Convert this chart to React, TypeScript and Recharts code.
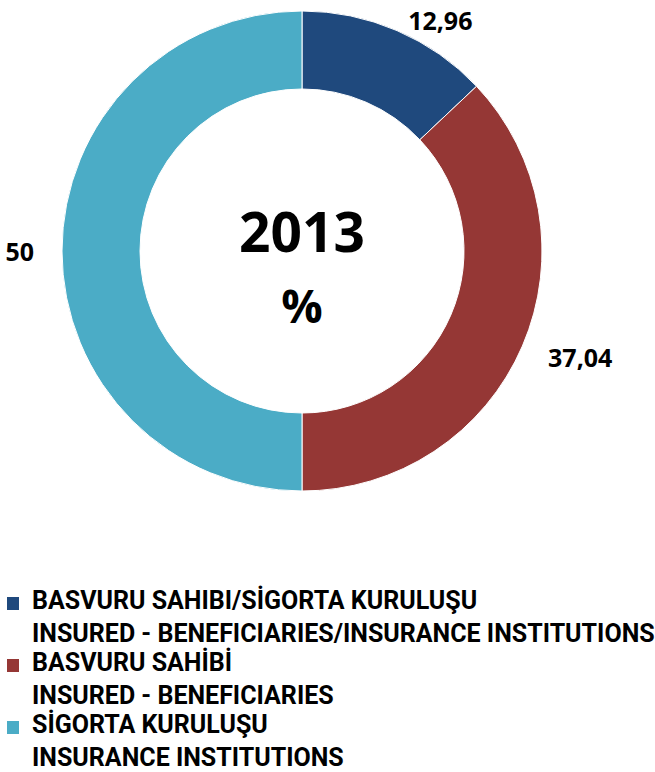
import { Cell, Legend, Pie, PieChart } from "recharts";

const categories = ["BASVURU SAHIBI/SİGORTA KURULUŞU", "BASVURU SAHİBİ", "SİGORTA KURULUŞU"];
const categoriesEn = ["INSURED - BENEFICIARIES/INSURANCE INSTITUTIONS", "INSURED - BENEFICIARIES", "INSURANCE INSTITUTIONS"];
const shares = [12.96, 37.04, 50];
const shareLabels = ["12,96", "37,04", "50"];
const colors = ["#1f497d", "#953735", "#4bacc6"];
const year = "2013";
const unit = "%";

const data = categories.map((name, i) => ({ name, value: shares[i], text: shareLabels[i] }));

const CX = 302;
const CY = 251;
const font = "'Open Sans', 'DejaVu Sans', sans-serif";
const legendFont = "Roboto, 'Liberation Sans', sans-serif";
const RAD = Math.PI / 180;

function renderValueLabel(props: any) {
  const { cx, cy, midAngle, outerRadius, index } = props;
  const r = outerRadius + 28;
  const c = Math.cos(-midAngle * RAD);
  const px = cx + r * c;
  let py = cy + r * Math.sin(-midAngle * RAD);
  if (py < cy - 40) py += 15;
  return (
    <text
      x={px}
      y={py}
      textAnchor={c >= 0 ? "start" : "end"}
      dominantBaseline="central"
      fontFamily={font}
      fontWeight={700}
      fontSize={25}
      fill="#000"
    >
      {data[index].text}
    </text>
  );
}

function renderLegend(props: any) {
  const items = props.payload || [];
  return (
    <svg width={655} height={192} style={{ display: "block" }}>
      {items.map((item: any, i: number) => {
        const base = 29 + i * 62;
        return (
          <g key={i}>
            <rect x={7} y={base - 12} width={12} height={13} fill={item.color} />
            <text x={32} y={base} fontFamily={legendFont} fontWeight={700} fontSize={25} fill="#000">
              {item.value}
            </text>
            <text x={32} y={base + 33} fontFamily={legendFont} fontWeight={700} fontSize={25} fill="#000">
              {categoriesEn[i]}
            </text>
          </g>
        );
      })}
    </svg>
  );
}

export default function App() {
  return (
    <div style={{ position: "absolute", left: 0, top: 0, width: 655, height: 772, background: "#fff" }}>
      <PieChart width={655} height={772} margin={{ top: 0, right: 0, bottom: 0, left: 0 }}>
        <Pie
          data={data}
          dataKey="value"
          nameKey="name"
          cx={CX}
          cy={CY}
          innerRadius={162}
          outerRadius={240}
          startAngle={90}
          endAngle={-270}
          stroke="#ffffff"
          strokeWidth={1}
          label={renderValueLabel}
          labelLine={false}
          isAnimationActive={false}
        >
          {data.map((_, index) => (
            <Cell key={index} fill={colors[index]} />
          ))}
        </Pie>
        <text x={CX} y={CY - 21} textAnchor="middle" dominantBaseline="central" fontFamily={font} fontWeight={700} fontSize={55} fill="#000">
          {year}
        </text>
        <text x={CX} y={CY + 54} textAnchor="middle" dominantBaseline="central" fontFamily={font} fontWeight={700} fontSize={46} fill="#000">
          {unit}
        </text>
        <Legend
          content={renderLegend}
          wrapperStyle={{ position: "absolute", left: 0, top: 580, width: 655, height: 192 }}
        />
      </PieChart>
    </div>
  );
}
